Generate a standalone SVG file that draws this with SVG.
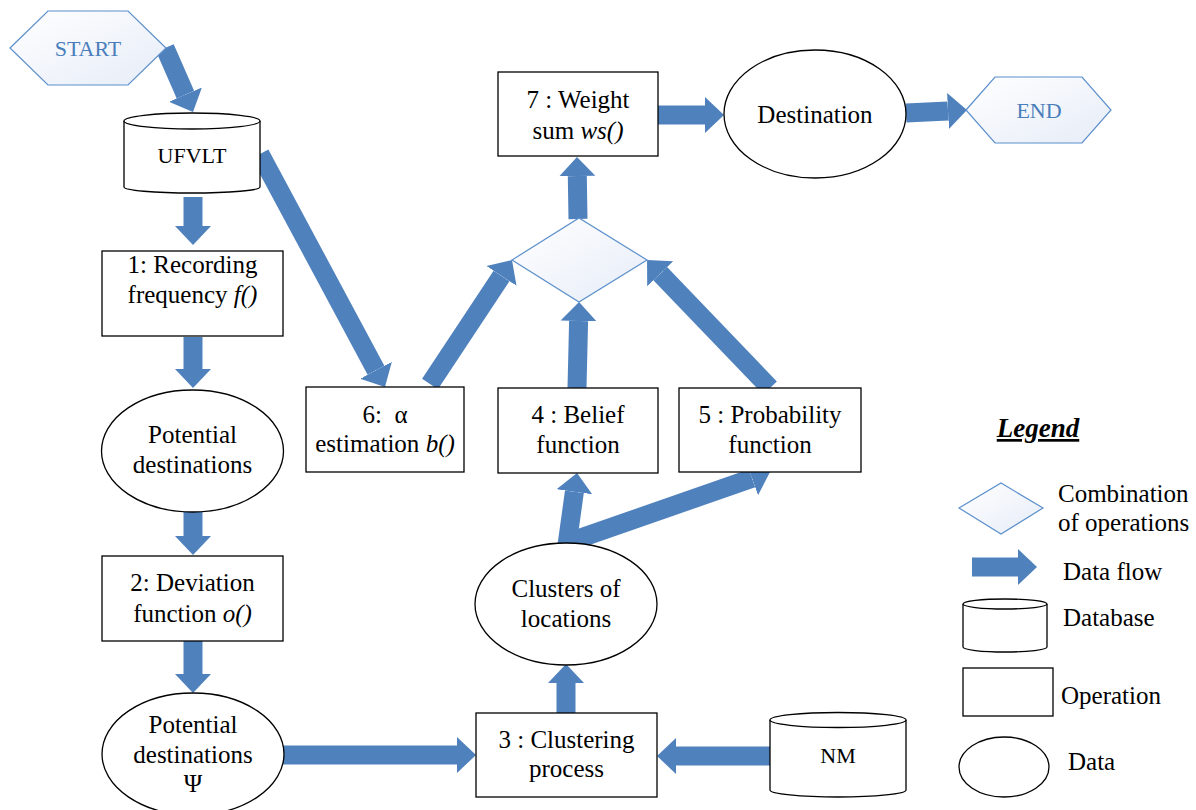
<svg xmlns="http://www.w3.org/2000/svg" width="1196" height="810" viewBox="0 0 1196 810" font-family="'Liberation Serif', 'DejaVu Serif', serif">
<style>
text{font-family:'Liberation Serif','DejaVu Serif',serif;font-size:25px;fill:#000;text-anchor:middle}
.lg{text-anchor:start}
.hx{font-size:22px;fill:#4a7ebb}
.db{font-size:22px}
.it{font-style:italic}
.box{fill:#fff;stroke:#000;stroke-width:1.3}
.hex{fill:url(#gr);stroke:#5b8fcc;stroke-width:1.2}
.flow{stroke:#4f81bd;stroke-width:19;fill:none;marker-end:url(#ah)}
</style>
<defs>
<linearGradient id="gr" x1="0" y1="0" x2="1" y2="1">
<stop offset="0" stop-color="#ffffff"/>
<stop offset="1" stop-color="#e6ecf7"/>
</linearGradient>
<marker id="ah" markerUnits="userSpaceOnUse" markerWidth="20" markerHeight="38" viewBox="0 -19 20 38" refX="0" refY="0" orient="auto">
<path d="M0,-18 L19,0 L0,18 Z" fill="#4f81bd"/>
</marker>
</defs>
<rect width="1196" height="810" fill="#fff"/>

<g id="connectors">
<line class="flow" x1="165" y1="48" x2="185.4" y2="94.6"/>
<line class="flow" x1="193" y1="197" x2="193" y2="226"/>
<line class="flow" x1="193" y1="337" x2="193" y2="369"/>
<line class="flow" x1="193" y1="509" x2="193" y2="536"/>
<line class="flow" x1="193" y1="641" x2="193" y2="674"/>
<line class="flow" x1="283" y1="755" x2="457" y2="755"/>
<line class="flow" x1="770" y1="756" x2="676" y2="756"/>
<line class="flow" x1="566" y1="713" x2="566" y2="683"/>
<line class="flow" x1="567" y1="545" x2="574.4" y2="491.8"/>
<line class="flow" x1="572" y1="541" x2="752.1" y2="478.3"/>
<line class="flow" x1="260" y1="154" x2="376.0" y2="370.3"/>
<line class="flow" x1="430" y1="384" x2="501.5" y2="275.9"/>
<line class="flow" x1="577" y1="388" x2="578.6" y2="321"/>
<line class="flow" x1="770" y1="388" x2="660.2" y2="273.7"/>
<line class="flow" x1="578" y1="219" x2="577.3" y2="176"/>
<line class="flow" x1="658" y1="115" x2="705" y2="115"/>
<line class="flow" x1="906" y1="113" x2="948" y2="110.9"/>
</g>

<g id="start">
<polygon class="hex" points="10,48 48,11 128,11 166,48 128,85 48,85"/>
<text class="hx" x="88" y="56">START</text>
</g>

<g id="ufvlt">
<path class="box" d="M124,121 A68,8 0 0 1 260,121 L260,187 A68,6 0 0 1 124,187 Z"/>
<path class="box" fill="none" d="M124,121 A68,8 0 0 0 260,121"/>
<text class="db" x="192" y="163">UFVLT</text>
</g>

<g id="op1">
<rect class="box" x="102" y="251" width="181" height="85"/>
<text x="192.5" y="273">1: Recording</text>
<text x="192.5" y="303">frequency <tspan class="it">f()</tspan></text>
</g>

<g id="potential1">
<ellipse class="box" cx="192.5" cy="451" rx="91" ry="61"/>
<text x="192.5" y="443">Potential</text>
<text x="192.5" y="473">destinations</text>
</g>

<g id="op2">
<rect class="box" x="102" y="556" width="181" height="85"/>
<text x="192.5" y="591">2: Deviation</text>
<text x="192.5" y="622">function <tspan class="it">o()</tspan></text>
</g>

<g id="potential2">
<ellipse class="box" cx="193" cy="754" rx="91" ry="61"/>
<text x="193" y="733">Potential</text>
<text x="193" y="763">destinations</text>
<text x="193" y="792">Ψ</text>
</g>

<g id="op3">
<rect class="box" x="476" y="713" width="181" height="84"/>
<text x="566.5" y="748">3 : Clustering</text>
<text x="566.5" y="777">process</text>
</g>

<g id="nm">
<path class="box" d="M770,720 A68,7.5 0 0 1 906,720 L906,790 A68,7 0 0 1 770,790 Z"/>
<path class="box" fill="none" d="M770,720 A68,7.5 0 0 0 906,720"/>
<text class="db" x="838" y="763">NM</text>
</g>

<g id="clusters">
<ellipse class="box" cx="566" cy="604" rx="91" ry="61"/>
<text x="566" y="597">Clusters of</text>
<text x="566" y="627">locations</text>
</g>

<g id="op6">
<rect class="box" x="306" y="387" width="158" height="85"/>
<text x="385" y="423" xml:space="preserve">6:  α</text>
<text x="385" y="452">estimation <tspan class="it">b()</tspan></text>
</g>

<g id="op4">
<rect class="box" x="498" y="388" width="160" height="85"/>
<text x="578" y="423">4 : Belief</text>
<text x="578" y="453">function</text>
</g>

<g id="op5">
<rect class="box" x="679" y="388" width="182" height="84"/>
<text x="770" y="423">5 : Probability</text>
<text x="770" y="453">function</text>
</g>

<g id="combine">
<polygon class="hex" points="512,260 579,218 647,260 579,302"/>
</g>

<g id="op7">
<rect class="box" x="498" y="72" width="160" height="84"/>
<text x="578" y="108">7 : Weight</text>
<text x="578" y="139">sum <tspan class="it">ws()</tspan></text>
</g>

<g id="destination">
<ellipse class="box" cx="815" cy="114" rx="91" ry="64"/>
<text x="815" y="123">Destination</text>
</g>

<g id="end">
<polygon class="hex" points="966,110 995,77 1082,77 1111,110 1082,143 995,143"/>
<text class="hx" x="1039" y="118">END</text>
</g>

<g id="legend">
<text x="1038" y="437" style="font-size:27px;font-weight:bold;font-style:italic;text-decoration:underline">Legend</text>
<polygon class="hex" points="959,508 1001,483 1043,508 1001,534"/>
<text class="lg" x="1058" y="502">Combination</text>
<text class="lg" x="1058" y="531">of operations</text>
<line class="flow" x1="972" y1="567" x2="1018" y2="567"/>
<text class="lg" x="1063" y="580">Data flow</text>
<path class="box" d="M963,604 A42,5 0 0 1 1047,604 L1047,647 A42,5 0 0 1 963,647 Z"/>
<path class="box" fill="none" d="M963,604 A42,5 0 0 0 1047,604"/>
<text class="lg" x="1063" y="626">Database</text>
<rect class="box" x="963" y="668" width="90" height="48"/>
<text class="lg" x="1061" y="704">Operation</text>
<ellipse class="box" cx="1004" cy="767" rx="45" ry="30"/>
<text class="lg" x="1068" y="770">Data</text>
</g>
</svg>
